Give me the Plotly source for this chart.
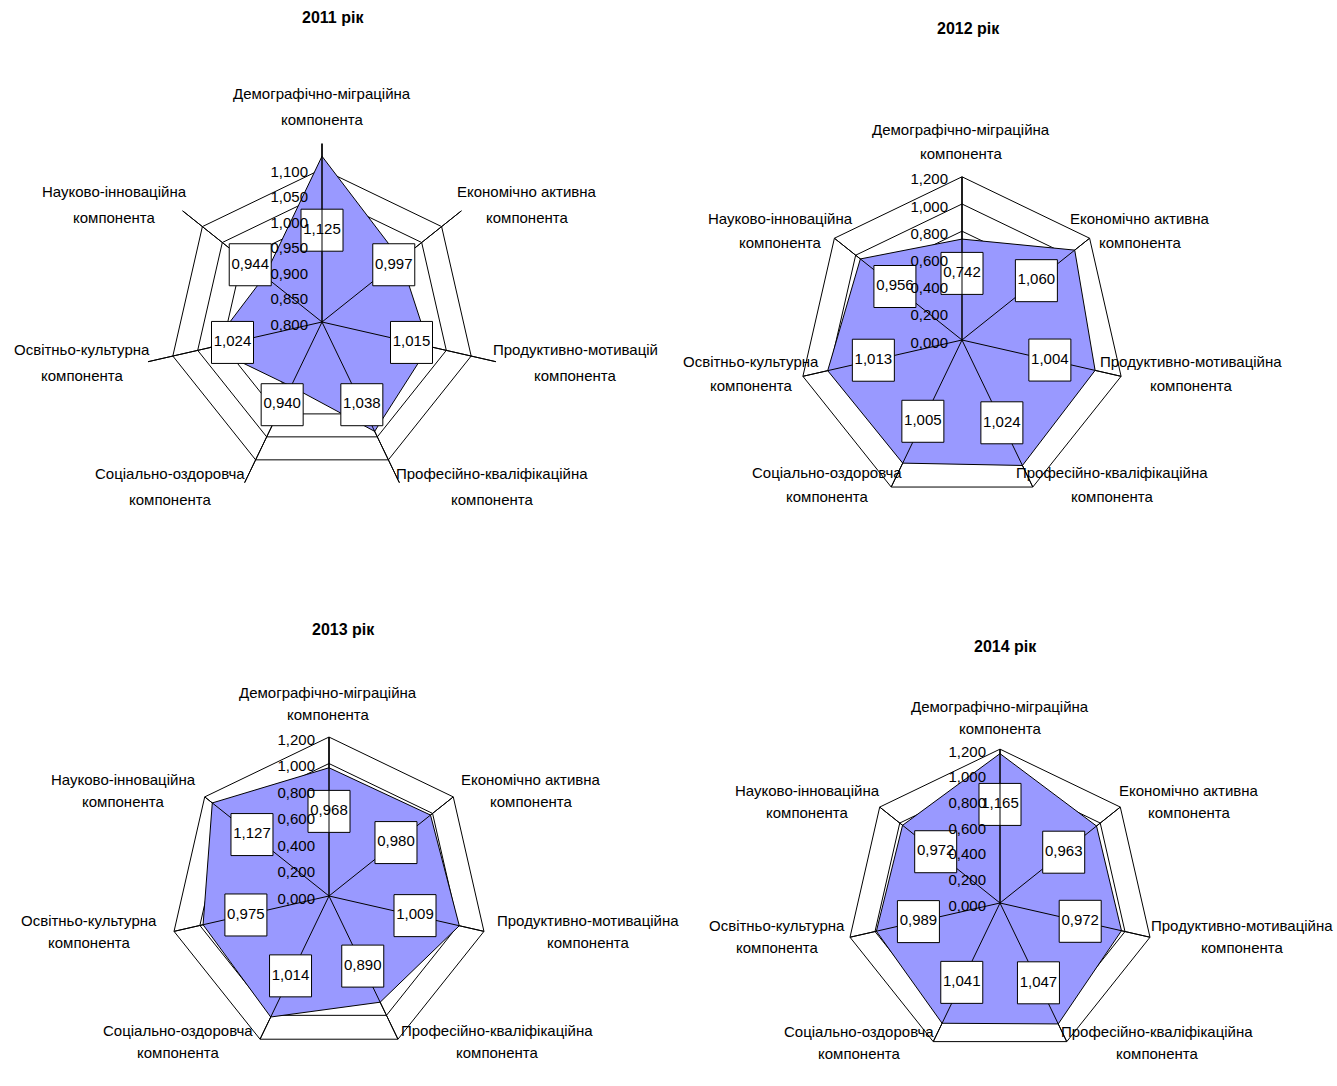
import math
import plotly.graph_objects as go

# Components of the index, clockwise from the top axis
categories = [
    ("Демографічно-міграційна", "компонента"),
    ("Економічно активна", "компонента"),
    ("Продуктивно-мотиваційна", "компонента"),
    ("Професійно-кваліфікаційна", "компонента"),
    ("Соціально-оздоровча", "компонента"),
    ("Освітньо-культурна", "компонента"),
    ("Науково-інноваційна", "компонента"),
]
categories_2011 = categories[:2] + [("Продуктивно-мотивацій", "компонента")] + categories[3:]

years = ["2011 рік", "2012 рік", "2013 рік", "2014 рік"]

values_2011 = [1.125, 0.997, 1.015, 1.038, 0.940, 1.024, 0.944]
values_2012 = [0.742, 1.060, 1.004, 1.024, 1.005, 1.013, 0.956]
values_2013 = [0.968, 0.980, 1.009, 0.890, 1.014, 0.975, 1.127]
values_2014 = [1.165, 0.963, 0.972, 1.047, 1.041, 0.989, 0.972]

ticks_2011 = [0.80, 0.85, 0.90, 0.95, 1.00, 1.05, 1.10]
ticks_std = [0.0, 0.2, 0.4, 0.6, 0.8, 1.0, 1.2]

FONT = "Liberation Sans, Arial, sans-serif"
FILL = "#9999FF"
W, H = 1337, 1086
SCALE = 0.85  # polar radius relative to the nominal panel radius

# panel geometry: centre and nominal radius in px, label centres in px
panels = [
    dict(name="polar", cats=categories_2011, vals=values_2011, ticks=ticks_2011,
         rng=[0.80, 1.15], cx=322, cy=322, R=210, outer=False,
         lab=lambda v: 0.98, title=(333, 18),
         labels=[(322, 75), (527, 185), (575, 370), (492, 515),
                 (170, 515), (82, 370), (114, 185)], lsp=13),
    dict(name="polar2", cats=categories, vals=values_2012, ticks=ticks_std,
         rng=[0.0, 1.2], cx=962, cy=340, R=192, outer=True,
         lab=lambda v: 0.66 * v, title=(968, 28),
         labels=[(961, 113), (1140, 213), (1191, 380), (1112, 510),
                 (827, 510), (751, 380), (780, 213)], lsp=12),
    dict(name="polar3", cats=categories, vals=values_2013, ticks=ticks_std,
         rng=[0.0, 1.2], cx=329, cy=896, R=187, outer=True,
         lab=lambda v: 0.66 * v, title=(343, 629),
         labels=[(328, 675), (531, 773), (588, 938), (497, 1067),
                 (178, 1067), (89, 938), (123, 773)], lsp=11),
    dict(name="polar4", cats=categories, vals=values_2014, ticks=ticks_std,
         rng=[0.0, 1.2], cx=1000, cy=903, R=181, outer=True,
         lab=lambda v: 0.66 * v, title=(1006, 646),
         labels=[(1000, 690), (1189, 785), (1242, 943), (1157, 1067),
                 (859, 1067), (777, 943), (807, 785)], lsp=11),
]

fig = go.Figure()
layout = {}
annotations = []

for p, year in zip(panels, years):
    names = [a for a, _ in p["cats"]]
    vals = p["vals"]
    # data polygon
    fig.add_trace(go.Scatterpolar(
        r=vals + vals[:1], theta=names + names[:1], subplot=p["name"],
        mode="lines", fill="toself", fillcolor=FILL,
        line=dict(color="black", width=1), cliponaxis=False,
        hoverinfo="skip", showlegend=False,
    ))
    # axis spokes drawn over the fill
    for c in names:
        fig.add_trace(go.Scatterpolar(
            r=[p["rng"][0], p["rng"][1]], theta=[c, c], subplot=p["name"],
            mode="lines", line=dict(color="black", width=1),
            hoverinfo="skip", showlegend=False, cliponaxis=False,
        ))
    # boxed value labels
    fig.add_trace(go.Scatterpolar(
        r=[p["lab"](v) for v in vals], theta=names, subplot=p["name"],
        mode="markers+text", customdata=vals,
        texttemplate="%{customdata:.3f}", textposition="middle center",
        textfont=dict(family=FONT, size=15, color="black"),
        marker=dict(symbol="square", size=42, color="white",
                    line=dict(color="black", width=1)),
        cliponaxis=False, hoverinfo="skip", showlegend=False,
    ))

    cx, cy, R0 = p["cx"], p["cy"], p["R"]
    R = R0 * SCALE
    layout[p["name"]] = dict(
        domain=dict(x=[(cx - R) / W, (cx + R) / W],
                    y=[1 - (cy + R) / H, 1 - (cy - R) / H]),
        bgcolor="white",
        gridshape="linear",
        radialaxis=dict(
            range=p["rng"], tickvals=p["ticks"], tickformat=".3f",
            angle=90, side="counterclockwise", showline=True,
            linecolor="black", linewidth=1, gridcolor="black", gridwidth=1,
            ticks="", tickfont=dict(family=FONT, size=15, color="black"),
            layer="above traces",
        ),
        angularaxis=dict(
            direction="clockwise", rotation=90, showline=p["outer"],
            linecolor="black", linewidth=1, gridcolor="black",
            showticklabels=False, ticks="",
        ),
    )

    # category captions, kept at the same vertical offset from the polygon vertices
    n = len(p["cats"])
    for k, ((l1, l2), (lx, ly)) in enumerate(zip(p["cats"], p["labels"])):
        th = 2 * math.pi * k / n
        y = ly + math.cos(th) * R0 * (1 - SCALE)
        for txt, yy in ((l1, y - p["lsp"]), (l2, y + p["lsp"])):
            annotations.append(dict(
                text=txt, x=lx / W, y=1 - yy / H, xref="paper", yref="paper",
                showarrow=False, font=dict(family=FONT, size=15, color="black"),
                xanchor="center", yanchor="middle",
            ))

    tx, ty = p["title"]
    annotations.append(dict(
        text=f"<b>{year}</b>", x=tx / W, y=1 - ty / H, xref="paper", yref="paper",
        showarrow=False, font=dict(family=FONT, size=16, color="black"),
        xanchor="center", yanchor="middle",
    ))

fig.update_layout(
    width=W, height=H, margin=dict(l=0, r=0, t=0, b=0),
    paper_bgcolor="white", plot_bgcolor="white",
    separators=", ", annotations=annotations, **layout,
)

fig.write_html("out.html")
